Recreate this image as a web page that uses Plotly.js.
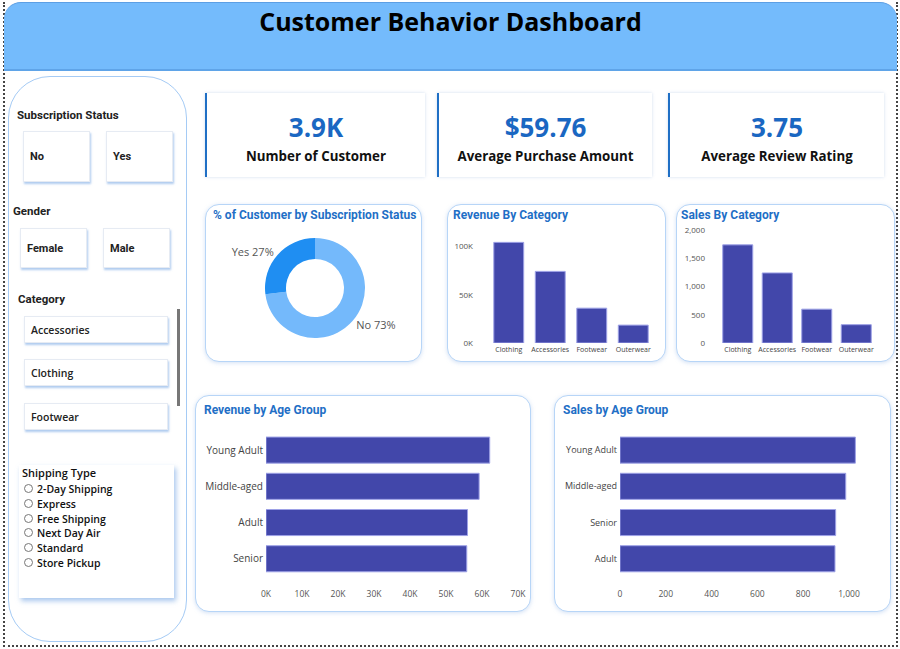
<!DOCTYPE html>
<html>
<head>
<meta charset="utf-8">
<script src="https://cdn.plot.ly/plotly-3.0.1.min.js"></script>
<style>
  html, body { margin:0; padding:0; background:#fff; width:900px; height:649px; overflow:hidden; font-family:"Open Sans", sans-serif; }
  .abs { position:absolute; box-sizing:border-box; }
  #frame { left:3px; top:2px; width:895px; height:645px; border-left:2px dotted #444; border-right:2px dotted #444; border-bottom:2px dotted #444; }
  #header { left:4px; top:2px; width:893px; height:69px; background:#74bbfc; border-radius:17px 17px 0 0; border-top:1px solid #5c9fe4; border-bottom:2px solid #5fa4e8; }
  #title { left:4px; top:4px; width:893px; text-align:center; font-family:"Open Sans"; font-weight:700; font-size:25px; color:#000; }
  #sidebar { left:8px; top:76px; width:179px; height:566px; border:1.5px solid #a5cbf5; border-radius:42px; background:#fff; }
  .lbl { font-family:"Roboto"; font-weight:700; font-size:11.5px; color:#222; }
  .btn { background:#fff; border:1px solid #e6ebf3; box-shadow:1px 2px 2px rgba(110,160,225,0.55); font-family:"Roboto"; font-weight:700; font-size:11px; color:#222; display:flex; align-items:center; padding-left:6px; }
  .kpi { background:#fff; border-left:2px solid #1f6fc5; box-shadow:0 0 3px rgba(150,180,220,0.45); }
  .kval { position:absolute; left:0; right:0; top:16px; text-align:center; font-family:"Open Sans"; font-weight:700; font-size:26px; color:#1a67c2; }
  .klab { position:absolute; left:0; right:0; top:54px; text-align:center; font-family:"Open Sans"; font-weight:700; font-size:13.3px; color:#111; }
  .card { background:#fff; border:1.5px solid #b7d5f7; border-radius:14px; box-shadow:0 1px 4px rgba(130,170,225,0.35); }
  .plot { position:absolute; }
  #ship { left:19px; top:465px; width:155px; height:133px; background:#fff; box-shadow:2px 3px 5px rgba(110,160,225,0.6); }
  .radio { position:absolute; left:5px; font-family:"Open Sans"; font-weight:600; font-size:10.5px; color:#111; }
  .radio span { display:inline-block; width:7px; height:7px; border:1px solid #777; border-radius:50%; margin-right:4px; vertical-align:0px; }
</style>
</head>
<body>
<div id="frame" class="abs"></div>
<div id="header" class="abs"></div>
<div id="title" class="abs">Customer Behavior Dashboard</div>

<div id="sidebar" class="abs"></div>
<div class="abs lbl" style="left:17px;top:108px;">Subscription Status</div>
<div class="abs btn" style="left:23px;top:131px;width:67px;height:51px;">No</div>
<div class="abs btn" style="left:106px;top:131px;width:67px;height:51px;">Yes</div>
<div class="abs lbl" style="left:13px;top:204px;">Gender</div>
<div class="abs btn" style="left:20px;top:228px;width:67px;height:40px;">Female</div>
<div class="abs btn" style="left:103px;top:228px;width:67px;height:40px;">Male</div>
<div class="abs lbl" style="left:18px;top:292px;">Category</div>
<div class="abs btn" style="left:24px;top:316px;width:144px;height:27px;font-weight:600;font-family:'Open Sans';font-size:10.5px;">Accessories</div>
<div class="abs btn" style="left:24px;top:359px;width:144px;height:27px;font-weight:600;font-family:'Open Sans';font-size:10.5px;">Clothing</div>
<div class="abs btn" style="left:24px;top:403px;width:144px;height:27px;font-weight:600;font-family:'Open Sans';font-size:10.5px;">Footwear</div>
<div class="abs" style="left:177px;top:309px;width:3px;height:97px;background:#777;"></div>
<div id="ship" class="abs">
  <div class="abs" style="left:3px;top:0px;font-family:'Open Sans';font-weight:600;font-size:11px;color:#111;">Shipping Type</div>
  <div id="shipList"></div>
</div>

<div id="kpis"></div>

<div class="abs card" style="left:205px;top:204px;width:217px;height:158px;"></div>
<div class="abs card" style="left:447px;top:204px;width:219px;height:158px;"></div>
<div class="abs card" style="left:676px;top:204px;width:219px;height:158px;"></div>
<div class="abs card" style="left:195px;top:395px;width:336px;height:217px;"></div>
<div class="abs card" style="left:554px;top:395px;width:337px;height:217px;"></div>

<div id="pie" class="plot" style="left:205px;top:204px;width:217px;height:158px;"></div>
<div id="revCat" class="plot" style="left:447px;top:204px;width:219px;height:158px;"></div>
<div id="salesCat" class="plot" style="left:676px;top:204px;width:219px;height:158px;"></div>
<div id="revAge" class="plot" style="left:195px;top:395px;width:336px;height:217px;"></div>
<div id="salesAge" class="plot" style="left:554px;top:395px;width:337px;height:217px;"></div>

<script>
// ---------------- DATA ----------------
const kpiValues = ['3.9K', '$59.76', '3.75'];
const kpiLabels = ['Number of Customer', 'Average Purchase Amount', 'Average Review Rating'];

const subscriptionLabels = ['No', 'Yes'];
const subscriptionCounts = [2847, 1053];

const categories = ['Clothing', 'Accessories', 'Footwear', 'Outerwear'];
const revenueByCategory = [104264, 74200, 36093, 18524];
const salesByCategory = [1737, 1240, 599, 324];

const revenueAgeGroups = ['Young Adult', 'Middle-aged', 'Adult', 'Senior'];
const revenueByAge = [62143, 59197, 55978, 55763];

const salesAgeGroups = ['Young Adult', 'Middle-aged', 'Senior', 'Adult'];
const salesByAge = [1028, 986, 942, 939];

const revCatTicks = [0, 50000, 100000];
const revCatTickText = ['0K', '50K', '100K'];
const revAgeTicks = [0, 10000, 20000, 30000, 40000, 50000, 60000, 70000];
const revAgeTickText = ['0K', '10K', '20K', '30K', '40K', '50K', '60K', '70K'];
const salesCatTicks = [0, 500, 1000, 1500, 2000];
const salesAgeTicks = [0, 200, 400, 600, 800, 1000];

const shippingTypes = ['2-Day Shipping', 'Express', 'Free Shipping', 'Next Day Air', 'Standard', 'Store Pickup'];

// ---------------- STATIC HTML PARTS ----------------
const kpiLefts = [205, 437, 668], kpiWidths = [220, 215, 216];
const kpiDiv = document.getElementById('kpis');
kpiValues.forEach((v, i) => {
  const d = document.createElement('div');
  d.className = 'abs kpi';
  d.style.cssText = `left:${kpiLefts[i]}px;top:93px;width:${kpiWidths[i]}px;height:84px;`;
  d.innerHTML = `<div class="kval">${v}</div><div class="klab">${kpiLabels[i]}</div>`;
  kpiDiv.appendChild(d);
});
const shipList = document.getElementById('shipList');
shippingTypes.forEach((s, i) => {
  const d = document.createElement('div');
  d.className = 'radio';
  d.style.top = (17 + i * 14.8) + 'px';
  d.innerHTML = `<span></span>${s}`;
  shipList.appendChild(d);
});

// ---------------- CHARTS ----------------
const BAR = '#4247aa';
const BARLINE = '#9da1e6';
const TITLE_COLOR = '#1f6fc6';
const cfg = { staticPlot: true, displayModeBar: false };
const base = { paper_bgcolor: 'rgba(0,0,0,0)', plot_bgcolor: 'rgba(0,0,0,0)', showlegend: false,
  font: { family: 'Open Sans', color: '#555' } };
function ttl(text, x, y, w, h) {
  return { text: text, font: { family: 'Roboto', size: 12, color: TITLE_COLOR, weight: 700 },
    x: x / w, xanchor: 'left', xref: 'container', y: 1 - y / h, yanchor: 'middle', yref: 'container' };
}

// Donut
Plotly.newPlot('pie', [{
  type: 'pie', labels: subscriptionLabels, values: subscriptionCounts, hole: 0.58, sort: false,
  direction: 'clockwise', rotation: 0,
  marker: { colors: ['#74b9fb', '#1f8ef2'] },
  textposition: 'outside', texttemplate: '%{label} %{percent:.0%}',
  textfont: { family: 'Open Sans', size: 11, color: '#555' },
  domain: { x: [60 / 217, 160 / 217], y: [1 - 134 / 158, 1 - 34 / 158] }
}], Object.assign({}, base, {
  width: 217, height: 158, margin: { l: 0, r: 0, t: 0, b: 0 },
  title: ttl('% of Customer by Subscription Status', 8, 11, 217, 158)
}), cfg);

// Revenue by category
Plotly.newPlot('revCat', [{
  type: 'bar', x: categories, y: revenueByCategory,
  marker: { color: BAR, line: { color: BARLINE, width: 1 } }
}], Object.assign({}, base, {
  width: 219, height: 158, margin: { l: 41, r: 12, t: 28, b: 19 }, bargap: 0.28,
  title: ttl('Revenue By Category', 6, 11, 219, 158),
  xaxis: { showgrid: false, showline: false, ticks: '', tickfont: { size: 7, color: '#444' }, ticklabelstandoff: 1 },
  yaxis: { range: [0, 115000], tickvals: revCatTicks, ticktext: revCatTickText, showgrid: false, zeroline: false,
    showline: false, ticks: '', tickfont: { size: 8, color: '#555' }, ticklabelstandoff: 14 }
}), cfg);

// Sales by category
Plotly.newPlot('salesCat', [{
  type: 'bar', x: categories, y: salesByCategory,
  marker: { color: BAR, line: { color: BARLINE, width: 1 } }
}], Object.assign({}, base, {
  width: 219, height: 158, margin: { l: 42, r: 19, t: 26, b: 19 }, bargap: 0.24,
  title: ttl('Sales By Category', 5, 11, 219, 158),
  xaxis: { showgrid: false, showline: false, ticks: '', tickfont: { size: 7, color: '#444' }, ticklabelstandoff: 1 },
  yaxis: { range: [0, 2000], tickvals: salesCatTicks, tickformat: ',d', showgrid: false, zeroline: false,
    showline: false, ticks: '', tickfont: { size: 8, color: '#555' }, ticklabelstandoff: 12 }
}), cfg);

// Revenue by age group
Plotly.newPlot('revAge', [{
  type: 'bar', orientation: 'h', y: revenueAgeGroups, x: revenueByAge, width: 0.72,
  marker: { color: BAR, line: { color: BARLINE, width: 1 } }
}], Object.assign({}, base, {
  width: 336, height: 217, margin: { l: 71, r: 13, t: 37, b: 25 },
  title: ttl('Revenue by Age Group', 9, 15, 336, 217),
  xaxis: { range: [0, 70000], tickvals: revAgeTicks, ticktext: revAgeTickText, showgrid: false, zeroline: false,
    showline: false, ticks: '', tickfont: { size: 8.5, color: '#555' } },
  yaxis: { type: 'category', range: [3.78, -0.5], showgrid: false, showline: false, ticks: '',
    tickfont: { size: 10, color: '#444' }, ticklabelstandoff: 2 }
}), cfg);

// Sales by age group
Plotly.newPlot('salesAge', [{
  type: 'bar', orientation: 'h', y: salesAgeGroups, x: salesByAge, width: 0.72,
  marker: { color: BAR, line: { color: BARLINE, width: 1 } }
}], Object.assign({}, base, {
  width: 337, height: 217, margin: { l: 66, r: 10, t: 37, b: 25 },
  title: ttl('Sales by Age Group', 9, 15, 337, 217),
  xaxis: { range: [0, 1140], tickvals: salesAgeTicks, tickformat: ',d', showgrid: false, zeroline: false,
    showline: false, ticks: '', tickfont: { size: 8.5, color: '#555' } },
  yaxis: { type: 'category', range: [3.78, -0.5], showgrid: false, showline: false, ticks: '',
    tickfont: { size: 9, color: '#444' }, ticklabelstandoff: 2 }
}), cfg);
</script>
</body>
</html>
